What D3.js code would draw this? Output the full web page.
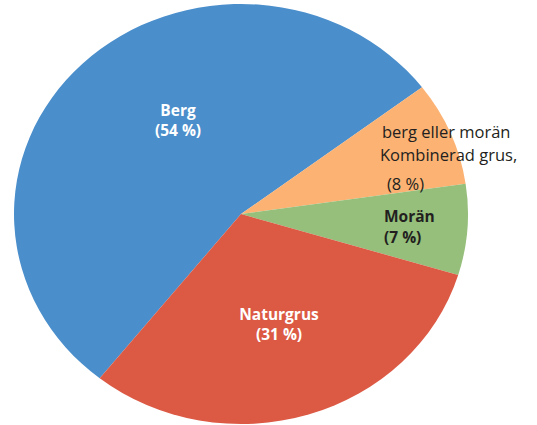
<!DOCTYPE html>
<html>
<head>
	<meta charset="utf-8">
	<title>Pie</title>
	<script src="https://d3js.org/d3.v7.min.js"></script>
	<style>
		body { margin: 0; background: #fff; }
		text { font-family: "Open Sans", sans-serif; }
	</style>
</head>
<body>
	<script type="text/javascript">

		// Data
		var categories = ['Berg', 'Kombinerad grus, berg eller morän', 'Morän', 'Naturgrus'];
		var values = [54, 8, 7, 31];
		var colors = ['#4a8ecb', '#fbb273', '#95bf7a', '#dc5944'];

		var width = 537, height = 425;
		var cx = 241, cy = 214, rx = 227, ry = 210;

		var svg = d3.select('body')
					.append('svg')
					.attr('width', width)
					.attr('height', height);

		// Pie, start Berg at lower left
		var pie = d3.pie()
					.sort(null)
					.startAngle(-141.5 * Math.PI / 180)
					.endAngle(218.5 * Math.PI / 180);

		var arcs = pie(values);

		var arc = d3.arc()
					.innerRadius(0)
					.outerRadius(rx);

		// Draw as ellipse
		svg.append('g')
		   .attr('transform', 'translate(' + cx + ',' + cy + ') scale(1,' + (ry / rx) + ')')
		   .selectAll('path')
		   .data(arcs)
		   .enter()
		   .append('path')
		   .attr('d', arc)
		   .attr('fill', function(d, i) { return colors[i]; });

		// Labels
		var labels = [
			{ lines: ['Berg', '(54 %)'], x: 178, y: 116, anchor: 'middle', fill: '#fff', gap: 20 },
			{ lines: ['Naturgrus', '(31 %)'], x: 279, y: 320, anchor: 'middle', fill: '#fff', gap: 20 },
			{ lines: ['Morän', '(7 %)'], x: 384, y: 222, anchor: 'start', fill: '#231f20', gap: 21 }
		];

		labels.forEach(function(l) {
			var t = svg.append('text')
					   .attr('text-anchor', l.anchor)
					   .attr('fill', l.fill)
					   .style('font-weight', 'bold')
					   .style('font-size', '15.5px');
			l.lines.forEach(function(s, i) {
				t.append('tspan')
				 .attr('x', l.x)
				 .attr('y', l.y + i * l.gap)
				 .text(s);
			});
		});

		// Kombinerad label (lines swapped as in original)
		var komb = svg.append('g')
					  .attr('fill', '#231f20')
					  .style('font-size', '16.5px');
		komb.append('text').attr('x', 382).attr('y', 138).text('berg eller morän');
		komb.append('text').attr('x', 380).attr('y', 161).text('Kombinerad grus,');
		komb.append('text').attr('x', 387).attr('y', 190).text('(' + values[1] + ' %)');

	</script>
</body>
</html>
